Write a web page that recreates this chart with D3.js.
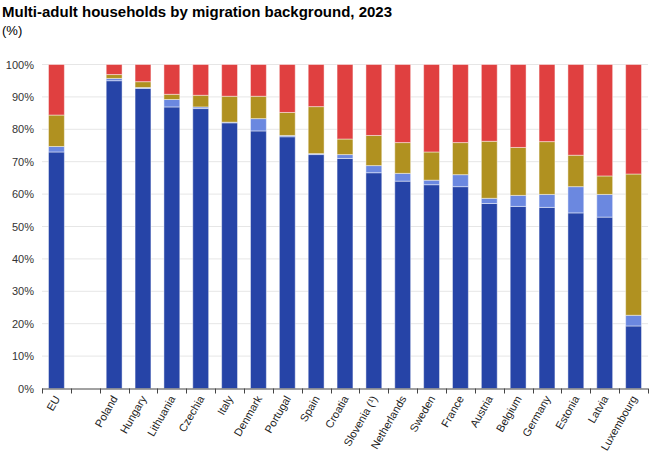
<!DOCTYPE html>
<html>
<head>
<meta charset="utf-8">
<script src="https://cdn.jsdelivr.net/npm/d3@7"></script>
<style>
  body { margin: 0; background: #fff; }
  svg { display: block; font-family: "Liberation Sans", Arial, sans-serif; }
</style>
</head>
<body>
<svg id="chart" width="650" height="455"></svg>
<script>
const categories = ["EU", "", "Poland", "Hungary", "Lithuania", "Czechia", "Italy", "Denmark", "Portugal", "Spain", "Croatia", "Slovenia (¹)", "Netherlands", "Sweden", "France", "Austria", "Belgium", "Germany", "Estonia", "Latvia", "Luxembourg"];
const seriesNames = ["Native-born only", "Native-born and foreign-born (EU)", "Native-born and foreign-born (non-EU)", "Foreign-born only"];
const nativeOnly   = [73.0, null, 95.0, 92.6, 86.9, 86.4, 82.0, 79.5, 77.7, 72.2, 71.0, 66.6, 64.0, 62.9, 62.3, 57.1, 56.2, 55.9, 54.2, 52.9, 19.3];
const mixedEU      = [1.7, null, 0.7, 0.3, 2.3, 0.5, 0.2, 3.8, 0.4, 0.3, 1.2, 2.2, 2.4, 1.4, 3.7, 1.6, 3.4, 4.0, 8.1, 7.0, 3.3];
const mixedNonEU   = [9.7, null, 1.2, 1.8, 1.6, 3.6, 8.0, 6.9, 7.1, 14.5, 4.8, 9.3, 9.5, 8.7, 9.9, 17.6, 14.8, 16.3, 9.7, 5.7, 43.6];
const foreignOnly  = [15.6, null, 3.1, 5.3, 9.2, 9.5, 9.8, 9.8, 14.8, 13.0, 23.0, 21.9, 24.1, 27.0, 24.1, 23.7, 25.6, 23.8, 28.0, 34.4, 33.8];
const yTicks = [0, 10, 20, 30, 40, 50, 60, 70, 80, 90, 100];
const colors = ["#2644A7", "#6B88E0", "#B09120", "#E04040"];

const svg = d3.select("#chart");
const margin = {left: 42, right: 2, top: 64.5, bottom: 66.5};
const W = 650, H = 455;

svg.append("text").attr("x", 2).attr("y", 17)
  .attr("font-size", 15).attr("font-weight", "bold").attr("fill", "#000")
  .text("Multi-adult households by migration background, 2023");
svg.append("text").attr("x", 2).attr("y", 35)
  .attr("font-size", 13).attr("fill", "#000").text("(%)");

const x = d3.scaleBand().domain(d3.range(categories.length))
  .range([margin.left, W - margin.right]).paddingInner(0.45).paddingOuter(0.225);
const y = d3.scaleLinear().domain([0, 100]).range([H - margin.bottom, margin.top]);

// gridlines
svg.append("g").selectAll("line").data(yTicks.slice(1)).join("line")
  .attr("x1", margin.left).attr("x2", W - margin.right)
  .attr("y1", d => y(d)).attr("y2", d => y(d))
  .attr("stroke", "#e6e6e6").attr("stroke-width", 1);

// y labels
svg.append("g").selectAll("text").data(yTicks).join("text")
  .attr("x", 34).attr("y", d => y(d) + 4)
  .attr("text-anchor", "end").attr("font-size", 11).attr("fill", "#333")
  .text(d => d + "%");

// stacked bars
const rows = categories.map((c, i) => ({i, v: [nativeOnly[i], mixedEU[i], mixedNonEU[i], foreignOnly[i]]}));
const keys = [0, 1, 2, 3];
const stack = d3.stack().keys(keys).value((d, k) => d.v[k] == null ? 0 : d.v[k]);
const stacked = stack(rows.filter(r => r.v[0] != null));

svg.append("g").selectAll("g").data(stacked).join("g")
  .attr("fill", (d, k) => colors[k])
  .selectAll("rect").data(d => d).join("rect")
  .attr("x", d => x(d.data.i))
  .attr("width", x.bandwidth())
  .attr("y", d => y(d[1]))
  .attr("height", d => Math.max(0, y(d[0]) - y(d[1])))
  .attr("stroke", "#ffffff").attr("stroke-opacity", 0.45).attr("stroke-width", 1);

// x axis
const boundaries = d3.range(categories.length + 1).map(i => margin.left + i * (W - margin.right - margin.left) / categories.length);
const axisG = svg.append("g");
axisG.append("line").attr("x1", margin.left).attr("x2", W - margin.right)
  .attr("y1", y(0) + 0.5).attr("y2", y(0) + 0.5).attr("stroke", "#444").attr("stroke-width", 1);
axisG.selectAll("line.tick").data(boundaries).join("line").attr("class", "tick")
  .attr("x1", d => Math.round(d) + 0.5).attr("x2", d => Math.round(d) + 0.5)
  .attr("y1", y(0)).attr("y2", y(0) + 5).attr("stroke", "#444");

axisG.selectAll("text").data(categories.map((c, i) => ({c, i})).filter(d => d.c !== "")).join("text")
  .attr("transform", d => `translate(${x(d.i) + x.bandwidth() / 2 + 4},${y(0) + 10}) rotate(-60)`)
  .attr("text-anchor", "end").attr("font-size", 11).attr("fill", "#222")
  .text(d => d.c);
</script>
</body>
</html>
